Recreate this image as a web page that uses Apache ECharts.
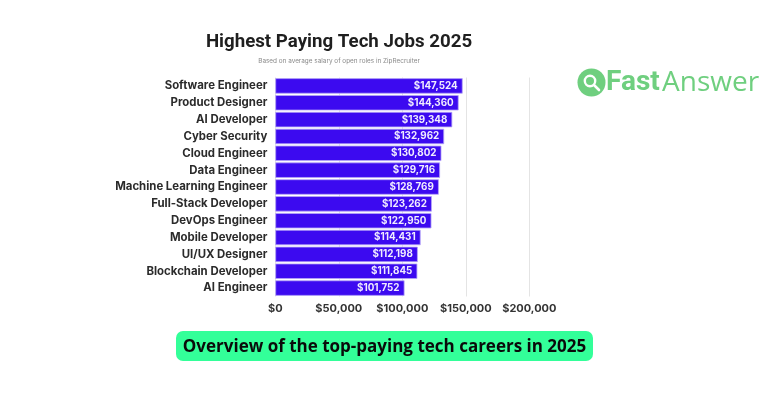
<!DOCTYPE html>
<html>
<head>
<meta charset="utf-8">
<style>html,body{margin:0;padding:0;background:#fff}#chart{width:768px;height:402px}</style>
<script src="https://cdn.jsdelivr.net/npm/echarts@6/dist/echarts.min.js"></script>
</head>
<body>
<div id="chart"></div>
<script>
const jobs = ['Software Engineer','Product Designer','AI Developer','Cyber Security','Cloud Engineer','Data Engineer','Machine Learning Engineer','Full-Stack Developer','DevOps Engineer','Mobile Developer','UI/UX Designer','Blockchain Developer','AI Engineer'];
const salaries = [147524,144360,139348,132962,130802,129716,128769,123262,122950,114431,112198,111845,101752];
const titleText = 'Highest Paying Tech Jobs 2025';
const subtitleText = 'Based on average salary of open roles in ZipRecruiter';
const captionText = 'Overview of the top-paying tech careers in 2025';

const money = v => '$' + v.toLocaleString('en-US');
const font = 'Inter';
const chart = echarts.init(document.getElementById('chart'), null, { renderer: 'canvas' });

chart.setOption({
  animation: false,
  backgroundColor: '#ffffff',
  title: {
    text: titleText, subtext: subtitleText,
    left: 334, top: 28, textAlign: 'center', itemGap: 6,
    textStyle: { fontFamily: 'Roboto', fontSize: 18.7, fontWeight: 700, color: '#1f1f1f' },
    subtextStyle: { fontFamily: font, fontSize: 6.4, color: '#8a8a8a' }
  },
  grid: { left: 275.3, top: 77.5, width: 254, height: 219 },
  xAxis: {
    type: 'value', min: 0, max: 200000, interval: 50000,
    axisLine: { show: false }, axisTick: { show: false },
    splitLine: { lineStyle: { color: '#e4e4e4', width: 1 } },
    axisLabel: { formatter: money, margin: 7, fontFamily: font, fontSize: 11, fontWeight: 700, color: '#333333' }
  },
  yAxis: {
    type: 'category', data: jobs, inverse: true,
    axisLine: { show: false }, axisTick: { show: false },
    axisLabel: { margin: 8, fontFamily: font, fontSize: 11.4, fontWeight: 700, color: '#2b2b2b' }
  },
  series: [{
    type: 'bar', data: salaries, barWidth: 15.4,
    itemStyle: { color: '#3c0af0', borderColor: '#b6a6f8', borderWidth: 0.8 },
    label: {
      show: true, position: 'insideRight', distance: 5, formatter: p => money(p.value),
      fontFamily: font, fontSize: 9.8, fontWeight: 700, color: '#f1edff'
    }
  }],
  graphic: [
    { type: 'rect', shape: { x: 176, y: 331, width: 417, height: 30, r: 7 }, style: { fill: '#33ff99' } },
    { type: 'text', style: { x: 384.5, y: 347.5, text: captionText, align: 'center', verticalAlign: 'middle', font: '700 17px "Open Sans"', fill: '#0a0a0a' } },
    // logo
    { type: 'circle', shape: { cx: 591.5, cy: 82.5, r: 14 }, style: { fill: '#6fcf7f' } },
    { type: 'circle', shape: { cx: 590, cy: 81, r: 5.2 }, style: { fill: 'none', stroke: '#ffffff', lineWidth: 2.4 } },
    { type: 'line', shape: { x1: 594, y1: 85, x2: 599, y2: 90 }, style: { stroke: '#ffffff', lineWidth: 2.6, lineCap: 'round' } },
    { type: 'text', style: { x: 606, y: 83, text: 'Fast', verticalAlign: 'middle', font: '700 28px Roboto', fill: '#6fcf7f' } },
    { type: 'text', style: { x: 662, y: 83, text: 'Answer', verticalAlign: 'middle', font: '400 28px "Open Sans"', fill: '#6fcf7f' } }
  ]
});
</script>
</body>
</html>
